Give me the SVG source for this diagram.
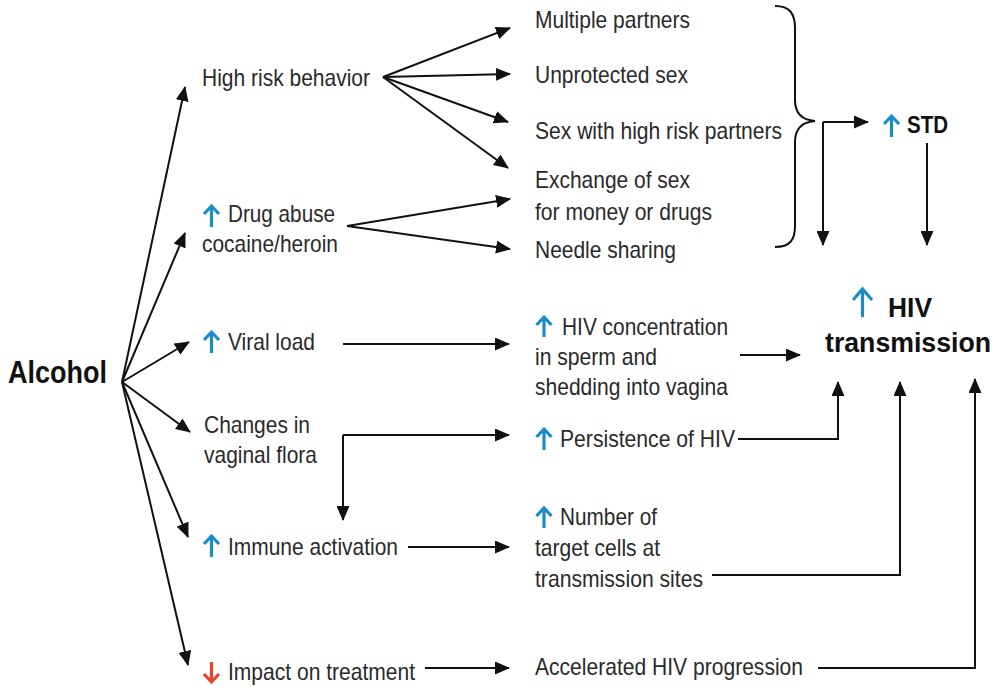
<svg xmlns="http://www.w3.org/2000/svg" width="1003" height="687" viewBox="0 0 1003 687">
  <defs>
    <marker id="ah" markerUnits="userSpaceOnUse" markerWidth="15" markerHeight="13" refX="14" refY="6.5" orient="auto">
      <path d="M0,0 L15,6.5 L0,13 z" fill="#111"/>
    </marker>
    <style>
      .t { font-family: "Liberation Sans", Arial, sans-serif; font-size: 24px; fill: #2a2a2a; }
      .b { font-family: "Liberation Sans", Arial, sans-serif; font-weight: bold; fill: #111; }
      .c { fill: none; stroke: #111; stroke-width: 2; marker-end: url(#ah); }
      .l { fill: none; stroke: #111; stroke-width: 2; }
      .up { fill: none; stroke: #1a8cc8; stroke-width: 3.2; }
      .dn { fill: none; stroke: #e8452c; stroke-width: 3.2; }
    </style>
  </defs>
  <rect width="1003" height="687" fill="#fff"/>

  <g id="connectors">
    <path class="c" d="M122,382 L185,87"/>
    <path class="c" d="M122,382 L185,233"/>
    <path class="c" d="M122,382 L189,342"/>
    <path class="c" d="M122,382 L190,432"/>
    <path class="c" d="M122,382 L188,537"/>
    <path class="c" d="M122,382 L188,665"/>
    <path class="c" d="M383,77 L510,28"/>
    <path class="c" d="M383,77 L510,74"/>
    <path class="c" d="M383,77 L508,122"/>
    <path class="c" d="M383,77 L508,168"/>
    <path class="c" d="M347,226 L510,199"/>
    <path class="c" d="M347,226 L510,249"/>
    <path class="c" d="M343,344 H509"/>
    <path class="c" d="M343,435 H509"/>
    <path class="c" d="M343,435 V520"/>
    <path class="c" d="M408,547 H509"/>
    <path class="c" d="M425,668 H509"/>
    <path class="c" d="M740,355 H800"/>
    <path class="c" d="M738,439 H838 V382"/>
    <path class="c" d="M712,575 H900 V382"/>
    <path class="c" d="M818,668 H975 V379"/>
    <path class="c" d="M823,122 H868"/>
    <path class="c" d="M823,122 V245"/>
    <path class="c" d="M927,143 V245"/>
    <path id="brace" class="l" d="M775,6 C790,6 795,14 795,28 L795,100 C795,113 802,120 815,121 C802,122 795,129 795,142 L795,226 C795,240 790,247 775,247"/>
  </g>

  <g id="alcohol"><text class="b" x="8" y="383" font-size="31" textLength="99" lengthAdjust="spacingAndGlyphs">Alcohol</text></g>

  <g id="high-risk"><text class="t" x="202" y="86" textLength="168" lengthAdjust="spacingAndGlyphs">High risk behavior</text></g>

  <g id="drug-abuse">
    <path class="up" d="M211.5,227 V207 M204,214 L211.5,206 L219,214"/>
    <text class="t" x="228" y="222" textLength="107" lengthAdjust="spacingAndGlyphs">Drug abuse</text>
    <text class="t" x="202" y="252" textLength="136" lengthAdjust="spacingAndGlyphs">cocaine/heroin</text>
  </g>

  <g id="viral-load">
    <path class="up" d="M211.5,353 V333 M204,340 L211.5,332 L219,340"/>
    <text class="t" x="228" y="350" textLength="87" lengthAdjust="spacingAndGlyphs">Viral load</text>
  </g>

  <g id="vaginal-flora">
    <text class="t" x="204" y="433" textLength="106" lengthAdjust="spacingAndGlyphs">Changes in</text>
    <text class="t" x="204" y="463" textLength="113" lengthAdjust="spacingAndGlyphs">vaginal flora</text>
  </g>

  <g id="immune">
    <path class="up" d="M211.5,557 V537 M204,544 L211.5,536 L219,544"/>
    <text class="t" x="228" y="555" textLength="170" lengthAdjust="spacingAndGlyphs">Immune activation</text>
  </g>

  <g id="treatment">
    <path class="dn" d="M211.5,662 V681 M204,674 L211.5,682 L219,674"/>
    <text class="t" x="228" y="680" textLength="187" lengthAdjust="spacingAndGlyphs">Impact on treatment</text>
  </g>

  <g id="multiple-partners"><text class="t" x="535" y="28" textLength="155" lengthAdjust="spacingAndGlyphs">Multiple partners</text></g>
  <g id="unprotected-sex"><text class="t" x="535" y="83" textLength="153" lengthAdjust="spacingAndGlyphs">Unprotected sex</text></g>
  <g id="high-risk-partners"><text class="t" x="535" y="139" textLength="247" lengthAdjust="spacingAndGlyphs">Sex with high risk partners</text></g>
  <g id="exchange">
    <text class="t" x="535" y="188" textLength="155" lengthAdjust="spacingAndGlyphs">Exchange of sex</text>
    <text class="t" x="535" y="220" textLength="177" lengthAdjust="spacingAndGlyphs">for money or drugs</text>
  </g>
  <g id="needle-sharing"><text class="t" x="535" y="258" textLength="141" lengthAdjust="spacingAndGlyphs">Needle sharing</text></g>

  <g id="std">
    <path class="up" d="M891.5,137 V117 M884,124 L891.5,116 L899,124"/>
    <text class="b" x="907" y="133" font-size="24" textLength="41" lengthAdjust="spacingAndGlyphs">STD</text>
  </g>

  <g id="hiv-concentration">
    <path class="up" d="M544,337 V318 M536.5,325 L544,317 L551.5,325"/>
    <text class="t" x="562" y="335" textLength="166" lengthAdjust="spacingAndGlyphs">HIV concentration</text>
    <text class="t" x="535" y="365" textLength="122" lengthAdjust="spacingAndGlyphs">in sperm and</text>
    <text class="t" x="535" y="395" textLength="193" lengthAdjust="spacingAndGlyphs">shedding into vagina</text>
  </g>

  <g id="persistence">
    <path class="up" d="M544,450 V430 M536.5,437 L544,429 L551.5,437"/>
    <text class="t" x="560" y="447" textLength="175" lengthAdjust="spacingAndGlyphs">Persistence of HIV</text>
  </g>

  <g id="target-cells">
    <path class="up" d="M544,528 V509 M536.5,516 L544,508 L551.5,516"/>
    <text class="t" x="560" y="525" textLength="97" lengthAdjust="spacingAndGlyphs">Number of</text>
    <text class="t" x="535" y="556" textLength="125" lengthAdjust="spacingAndGlyphs">target cells at</text>
    <text class="t" x="535" y="587" textLength="168" lengthAdjust="spacingAndGlyphs">transmission sites</text>
  </g>

  <g id="progression"><text class="t" x="535" y="675" textLength="268" lengthAdjust="spacingAndGlyphs">Accelerated HIV progression</text></g>

  <g id="hiv-transmission">
    <path class="up" d="M862.5,317 V291 M853,300 L862.5,289 L872,300"/>
    <text class="b" x="888" y="317" font-size="28" textLength="44" lengthAdjust="spacingAndGlyphs">HIV</text>
    <text class="b" x="825" y="352" font-size="28" textLength="166" lengthAdjust="spacingAndGlyphs">transmission</text>
  </g>
</svg>
